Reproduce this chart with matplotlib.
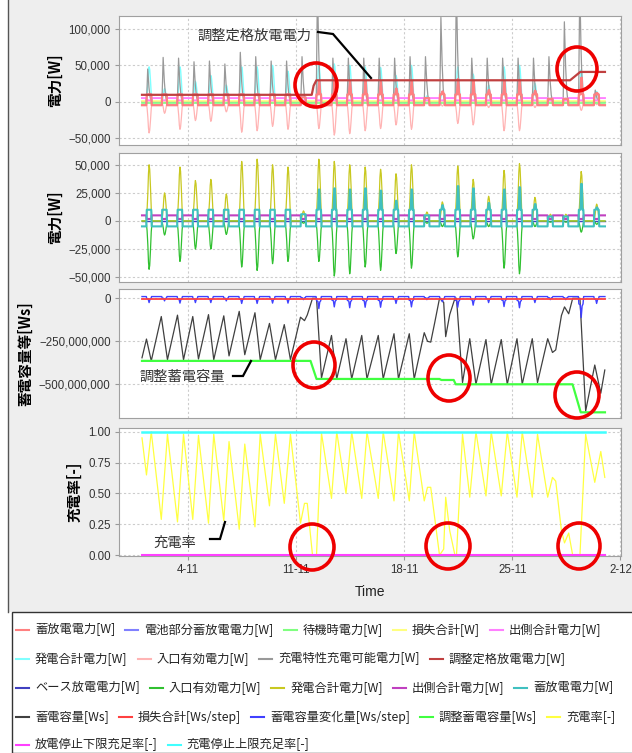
import numpy as np
import matplotlib
matplotlib.use("Agg")
import matplotlib.pyplot as plt
from matplotlib.patches import Ellipse, Rectangle
from matplotlib.lines import Line2D
from matplotlib.ticker import StrMethodFormatter

CJK = ['Noto Sans CJK JP', 'DejaVu Sans']
plt.rcParams['font.family'] = ['Liberation Sans', 'DejaVu Sans']

W, H = 632, 753
DAYS = 30
X_TICKS = [3, 10, 17, 24, 31]
X_LABELS = ['4-11', '11-11', '18-11', '25-11', '2-12']

# ---- panel 1 : power [W], one value per day (1-11 .. 30-11)
GEN_1 = [48000, 18000, 48000, 28000, 36000, 23000, 48000, 48000, 50000, 42000,
         8000, 50000, 52000, 50000, 48000, 47000, 36000, 50000, 8000, 14000,
         48000, 38000, 23000, 48000, 50000, 25000, 5000, 5000, 44000, 14000]
INLET_1 = [-43000, -16000, -38000, -26000, -27000, -14000, -42000, -40000, -34000, -38000,
           -3000, -37000, -46000, -44000, -40000, -37000, -32000, -38000, -3000, -6000,
           -30000, -32000, -8000, -40000, -40000, -8000, -2000, -2000, -12000, -4000]
CHARGEABLE_1 = [45000, 61000, 60000, 55000, 56000, 52000, 68000, 62000, 56000, 56000,
                62000, 160000, 60000, 60000, 60000, 60000, 60000, 62000, 62000, 116000,
                160000, 60000, 60000, 60000, 60000, 60000, 62000, 110000, 160000, 16000]
RATED_T = [0, 11.0, 11.12, 11.3, 27.74, 28.4, 30]
RATED_V = [9500, 9500, 22000, 29500, 29500, 41000, 41000]
STANDBY_W = -1800
LOSS_W = 600

# ---- panel 2 : power [W]
GEN_2 = [50000, 25000, 48000, 36000, 37000, 24000, 53000, 55000, 50000, 48000,
         9000, 55000, 53000, 50000, 48000, 46000, 42000, 50000, 8000, 17000,
         49000, 37000, 22000, 45000, 51000, 21000, 6000, 6000, 44000, 15000]
INLET_2 = [-43000, -12500, -36000, -25000, -25000, -12000, -41000, -44000, -38000, -36000,
           -2000, -36000, -49000, -47000, -41000, -44000, -29000, -42000, -2000, -5000,
           -32000, -16000, -5000, -42000, -47000, -5000, -1000, -1000, -10000, -3000]
CHG_BLOCK = [10000, 10000, 10000, 10000, 10000, 10000, 10000, 10000, 10000, 10000,
             6000, 10000, 10000, 10000, 10000, 10000, 10000, 10000, 5000, 10000,
             10000, 10000, 10000, 10000, 10000, 10000, 4000, 4000, 10000, 10000]
CHG_PEAK = [10000, 10000, 10000, 10000, 10000, 10000, 10000, 10000, 10000, 10000,
            6000, 28000, 29000, 28000, 29000, 27000, 18000, 28000, 5000, 14000,
            31000, 29000, 16000, 28000, 30000, 15000, 4000, 4000, 33000, 12000]
CHG_BASE = -4800
OUT_HI, OUT_LO = 5000, 1800

# ---- panel 3 / 4 : state of charge (same time stamps)
RATE_T = [0.00, 0.29, 0.60, 1.25, 1.65, 2.30, 2.69, 3.29, 3.66, 4.31, 4.65, 5.30, 5.64,
          6.30, 6.66, 7.32, 7.66, 8.26, 8.65, 9.22, 9.62, 10.27, 10.53, 10.71, 11.05,
          11.31, 11.63, 12.28, 12.62, 13.22, 13.59, 14.24, 14.58, 15.31, 15.63, 16.33,
          16.62, 17.32, 17.64, 18.29, 18.50, 18.71, 18.97, 19.28, 19.55, 19.68, 19.94,
          20.28, 20.38, 20.77, 21.24, 21.64, 22.29, 22.63, 23.28, 23.67, 24.30, 24.64,
          25.29, 25.63, 26.29, 26.60, 26.81, 27.18, 27.38, 27.65, 27.91, 28.38, 28.75,
          29.34, 29.73, 29.99]
RATE_V = [0.95, 0.65, 1.00, 0.29, 0.98, 0.27, 0.98, 0.29, 0.97, 0.26, 0.98, 0.28, 0.92,
          0.21, 0.90, 0.23, 0.98, 0.40, 0.98, 0.42, 0.98, 0.26, 0.42, 0.42, 0.00,
          0.00, 0.99, 0.46, 1.00, 0.50, 1.00, 0.46, 1.00, 0.46, 1.00, 0.44,
          1.00, 0.44, 1.00, 0.44, 0.55, 0.55, 0.30, 0.00, 0.05, 0.47, 0.20,
          0.00, 0.00, 0.98, 0.47, 1.00, 0.48, 1.00, 0.48, 1.00, 0.47, 1.00,
          0.47, 0.98, 0.47, 0.63, 0.60, 0.20, 0.10, 0.18, 0.00, 0.00, 0.98,
          0.59, 0.84, 0.63]
CAP_V = [-346, -237, -364, -106, -357, -98, -357, -106, -353, -95, -357, -102, -335,
         -76, -328, -84, -357, -146, -357, -153, -357, -110, -130, -97, 0,
         0, -464, -216, -469, -235, -469, -216, -469, -216, -469, -206,
         -469, -206, -469, -200, -250, -255, -141, 0, -24, -223, -95,
         0, 0, -490, -235, -500, -240, -500, -240, -500, -235, -500,
         -235, -490, -235, -315, -300, -100, -50, -90, 0, 0, -655,
         -388, -552, -417]   # 1e6 Ws
ADJ_T = [0, 10.92, 11.31, 19.28, 19.4, 20.2, 20.33, 27.9, 28.43, 30]
ADJ_V = [-364, -364, -469, -469, -475, -475, -500, -500, -663, -663]   # 1e6 Ws
DELTA_DIP = [-25, -15, -28, -25, -25, -15, -30, -30, -28, -28,
             -8, -60, -50, -55, -52, -52, -30, -50, -8, -20,
             -52, -40, -25, -48, -55, -25, -8, -8, -112, -30]   # 1e6 Ws/step
DELTA_BASE = 10
LOSS_WS = -3

# daily profile shapes: (fraction of day, share of the day's peak)
SOLAR_SHAPE = ([0.27, 0.33, 0.38, 0.42, 0.46, 0.50, 0.55, 0.60, 0.66],
               [0.0, 0.2, 0.5, 0.85, 1.0, 0.92, 0.6, 0.22, 0.0])
CHARGEABLE_SHAPE = ([0.29, 0.33, 0.37, 0.40, 0.45, 0.52, 0.60],
                    [0.0, 0.45, 1.0, 0.8, 0.45, 0.15, 0.0])
DELTA_SHAPE = ([0.28, 0.31, 0.40, 0.46, 0.52, 0.58, 0.62],
               [0.0, 0.35, 0.4, 1.0, 0.45, 0.35, 0.0])


def daily(peaks, shape, base=0.0):
    st, sv = shape
    t, v = [0.0], [base]
    for d, p in enumerate(peaks):
        for a, b in zip(st, sv):
            t.append(d + a)
            v.append(base + (p - base) * b)
    t.append(DAYS)
    v.append(base)
    return np.array(t), np.array(v)


def charge_power(block, peak, base):
    t, v = [0.0], [base]
    for d, (bl, pk) in enumerate(zip(block, peak)):
        for a, val in [(0.28, base), (0.31, bl), (0.41, bl), (0.46, pk),
                       (0.50, pk), (0.55, bl), (0.60, bl), (0.63, base)]:
            t.append(d + a)
            v.append(val)
    t.append(DAYS)
    v.append(base)
    return np.array(t), np.array(v)


def output_power(hi, lo):
    t, v = [0.0], [hi]
    for d in range(DAYS):
        for a, val in [(0.28, hi), (0.30, lo), (0.60, lo), (0.62, hi)]:
            t.append(d + a)
            v.append(val)
    t.append(DAYS)
    v.append(hi)
    return np.array(t), np.array(v)


fig = plt.figure(figsize=(W / 100, H / 100), dpi=100)
fig.patch.set_facecolor('white')


def px(x, y):
    return x / W, 1 - y / H


# window background, side rule and legend box
fig.add_artist(Rectangle(px(8, 612), (W - 8) / W, 612 / H, transform=fig.transFigure,
                         fc='#eeeeee', ec='none', zorder=-2))
fig.add_artist(Line2D([8 / W, 8 / W], [1 - 612 / H, 1], transform=fig.transFigure,
                      color='#555555', lw=1.0, zorder=-1))
fig.add_artist(Rectangle(px(11.5, 753), (W - 11) / W, 141 / H, transform=fig.transFigure,
                         fc='white', ec='#333333', lw=1.0, zorder=-1))

bounds = [(16, 145), (153, 282), (289, 418), (427.5, 556)]
axes = []
for top, bot in bounds:
    ax = fig.add_axes([119 / W, 1 - bot / H, 502 / W, (bot - top) / H])
    ax.set_facecolor('white')
    ax.set_xlim(-1.49, 31.04)
    ax.set_xticks(X_TICKS)
    ax.grid(True, color='#cccccc', ls=(0, (2, 2)), lw=0.8)
    ax.set_axisbelow(True)
    for sp in ax.spines.values():
        sp.set_color('#a0a0a0')
    ax.tick_params(colors='#999999', labelcolor='#333333', length=3, width=0.8,
                   labelsize=8.3, pad=3)
    axes.append(ax)
ax1, ax2, ax3, ax4 = axes
for ax in axes[:3]:
    ax.tick_params(axis='x', bottom=False, labelbottom=False)
ax4.set_xticklabels(X_LABELS)
ax4.tick_params(axis='x', pad=2.5)

entries = []


def line(ax, t, v, color, label, lw=1.0, z=2):
    h, = ax.plot(t, v, color=color, lw=lw, zorder=z, solid_joinstyle='round')
    entries.append((label, color))
    return h


# panel 1
chg_t, chg_v = charge_power(CHG_BLOCK, CHG_PEAK, CHG_BASE)
out_t, out_v = output_power(OUT_HI, OUT_LO)
line(ax1, chg_t, chg_v, '#ff8080', '蓄放電電力[W]', lw=1.6, z=5)
line(ax1, chg_t, chg_v, '#8080ff', '電池部分蓄放電電力[W]', lw=1.0, z=4)
line(ax1, [0, DAYS], [STANDBY_W, STANDBY_W], '#80ff80', '待機時電力[W]', lw=1.2, z=3)
line(ax1, [0, DAYS], [LOSS_W, LOSS_W], '#ffff80', '損失合計[W]', lw=1.2, z=3)
line(ax1, out_t, out_v, '#ff80ff', '出側合計電力[W]', lw=1.4, z=3)
t, v = daily(GEN_1, SOLAR_SHAPE)
line(ax1, t, v, '#80ffff', '発電合計電力[W]', lw=1.0, z=2)
t, v = daily(INLET_1, SOLAR_SHAPE)
line(ax1, t, v, '#ffb4b4', '入口有効電力[W]', lw=0.9, z=1)
t, v = daily(CHARGEABLE_1, CHARGEABLE_SHAPE)
line(ax1, t, v, '#999999', '充電特性充電可能電力[W]', lw=0.9, z=2.5)
line(ax1, RATED_T, RATED_V, '#c04040', '調整定格放電電力[W]', lw=1.6, z=6)
ax1.set_ylim(-59600, 118000)
ax1.set_yticks([-50000, 0, 50000, 100000])

# panel 2
line(ax2, [0, DAYS], [0, 0], '#4040c0', 'ベース放電電力[W]', lw=1.0, z=1)
t, v = daily(INLET_2, SOLAR_SHAPE)
line(ax2, t, v, '#30c030', '入口有効電力[W]', lw=0.9, z=2)
t, v = daily(GEN_2, SOLAR_SHAPE)
line(ax2, t, v, '#c8c820', '発電合計電力[W]', lw=0.9, z=2)
line(ax2, out_t, out_v, '#c040c0', '出側合計電力[W]', lw=1.5, z=3)
line(ax2, chg_t, chg_v, '#40c0c0', '蓄放電電力[W]', lw=1.5, z=3)
ax2.set_ylim(-54300, 60500)
ax2.set_yticks([-50000, -25000, 0, 25000, 50000])

# panel 3
line(ax3, RATE_T, np.array(CAP_V) * 1e6, '#404040', '蓄電容量[Ws]', lw=0.9, z=2)
line(ax3, [0, DAYS], [LOSS_WS * 1e6, LOSS_WS * 1e6], '#ff4040', '損失合計[Ws/step]', lw=1.3, z=3)
t, v = daily(DELTA_DIP, DELTA_SHAPE, base=DELTA_BASE)
line(ax3, t, v * 1e6, '#4040ff', '蓄電容量変化量[Ws/step]', lw=1.0, z=2.5)
line(ax3, ADJ_T, np.array(ADJ_V) * 1e6, '#40ff40', '調整蓄電容量[Ws]', lw=1.6, z=2.2)
ax3.set_ylim(-696e6, 54e6)
ax3.set_yticks([-500e6, -250e6, 0])

# panel 4
line(ax4, RATE_T, RATE_V, '#ffff40', '充電率[-]', lw=0.9, z=2)
line(ax4, [0, DAYS], [0, 0], '#ff40ff', '放電停止下限充足率[-]', lw=1.5, z=3)
line(ax4, [0, DAYS], [1, 1], '#40ffff', '充電停止上限充足率[-]', lw=1.8, z=3)
ax4.set_ylim(-0.006, 1.034)
ax4.set_yticks([0, 0.25, 0.5, 0.75, 1.0])

for ax in (ax1, ax2, ax3):
    ax.yaxis.set_major_formatter(StrMethodFormatter('{x:,.0f}'))
ax4.yaxis.set_major_formatter(StrMethodFormatter('{x:.2f}'))

ylabel_kw = dict(family=CJK, fontweight='bold', fontsize=10.5, labelpad=4)
ax1.set_ylabel('電力[W]', **ylabel_kw)
ax2.set_ylabel('電力[W]', **ylabel_kw)
ax3.set_ylabel('蓄電容量等[Ws]', **ylabel_kw)
ax4.set_ylabel('充電率[-]', **ylabel_kw)
ax4.set_xlabel('Time', fontsize=10, color='#222222', labelpad=7)

# callouts
for text, (tx, ty) in [('調整定格放電電力', (197, 36)), ('調整蓄電容量', (139, 377)),
                       ('充電率', (153, 543))]:
    fig.text(*px(tx, ty), text, family=CJK, fontsize=10.3, color='#333333',
             ha='left', va='center', zorder=10)
for pts in [[(318, 32), (333, 34), (371, 78)],
            [(233, 376), (243, 376), (251, 361)],
            [(210, 539), (220, 539), (225, 522)]]:
    xs, ys = zip(*[px(x, y) for x, y in pts])
    fig.add_artist(Line2D(xs, ys, transform=fig.transFigure, color='black', lw=1.6,
                          zorder=10, solid_joinstyle='miter'))
for cx, cy, rx, ry in [(316, 85, 21, 22), (577, 69, 20, 22), (314, 365, 21, 23),
                       (449, 378, 21, 23), (577, 395, 22, 23), (312, 547, 22, 23),
                       (448, 546, 22, 23), (579, 546, 21, 23)]:
    fig.add_artist(Ellipse(px(cx, cy), 2 * rx / W, 2 * ry / H, transform=fig.transFigure,
                           fill=False, ec='#ee0000', lw=2.6, zorder=11))

# legend, laid out row by row
rows = [5, 4, 5, 5, 2]
row_y = [630, 659, 688, 717, 745]
renderer = fig.canvas.get_renderer()
k = 0
for n, y in zip(rows, row_y):
    x = 16
    for label, color in entries[k:k + n]:
        fig.add_artist(Line2D([x / W, (x + 13) / W], [1 - y / H] * 2,
                              transform=fig.transFigure, color=color, lw=1.5))
        t = fig.text((x + 19) / W, 1 - y / H, label, family=CJK, fontsize=8.8,
                     color='#222222', ha='left', va='center')
        x += 19 + t.get_window_extent(renderer).width + 10
    k += n

fig.savefig('out.png', dpi=100)
